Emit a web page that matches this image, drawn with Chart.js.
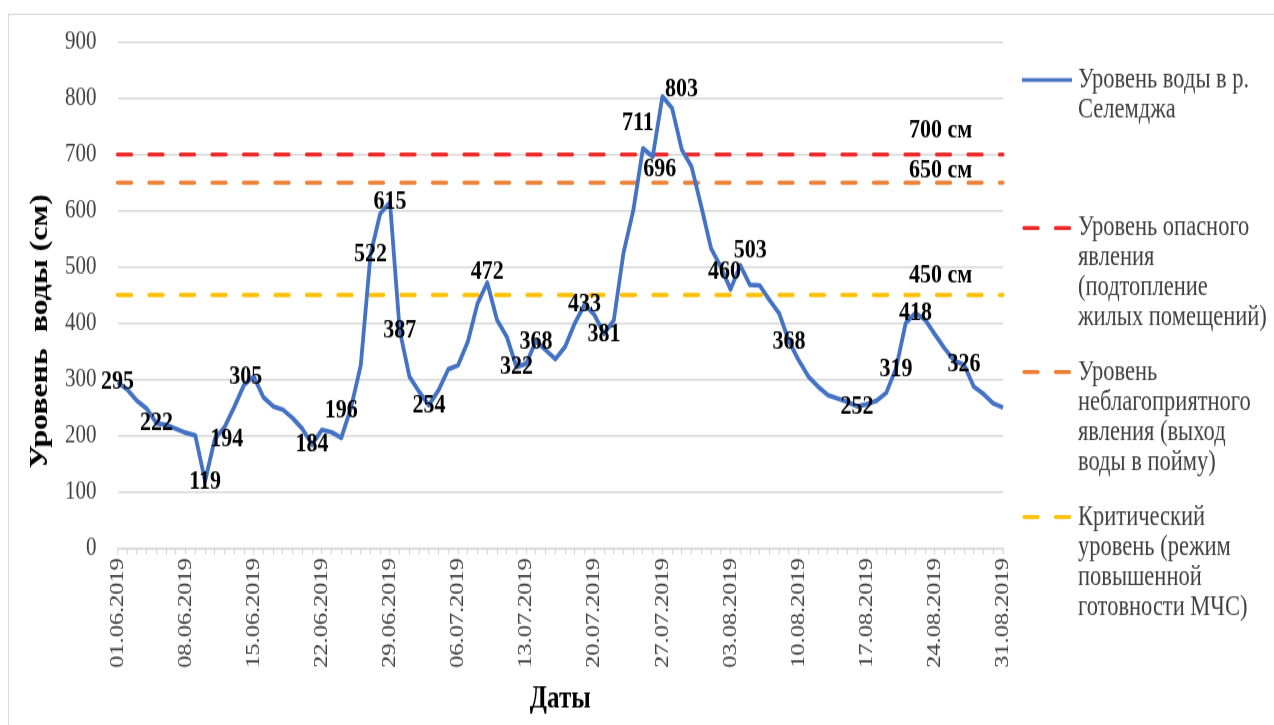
<!DOCTYPE html>
<html lang="ru">
<head>
<meta charset="utf-8">
<title>Уровень воды в р. Селемджа, июнь–август 2019</title>
<script src="https://cdn.jsdelivr.net/npm/chart.js@4.4.1/dist/chart.umd.min.js"></script>
<style>
  html, body { margin: 0; padding: 0; background: #ffffff; overflow: hidden; }
</style>
</head>
<body>
<!-- the drawing buffer is 580 px high and shown 725 px high (tall lettering) -->
<canvas id="chart" width="1274" height="580" style="display:block;width:1274px;height:725px"></canvas>
<script>
// ---- data -------------------------------------------------------------
// daily dates 01.06.2019 – 31.08.2019
const monthDays = [['06', 30], ['07', 31], ['08', 31]];
const dates = [];
monthDays.forEach(([m, n]) => {
  for (let d = 1; d <= n; d++) dates.push(String(d).padStart(2, '0') + '.' + m + '.2019');
});

// dates that carry a tick label
const tickDates = ['01.06.2019', '08.06.2019', '15.06.2019', '22.06.2019', '29.06.2019',
  '06.07.2019', '13.07.2019', '20.07.2019', '27.07.2019', '03.08.2019',
  '10.08.2019', '17.08.2019', '24.08.2019', '31.08.2019'];

// water level, cm
const waterLevel = [
  295, 282, 262, 248, 222, 219, 212, 205, 200, 119,
  194, 215, 251, 290, 305, 268, 252, 246, 231, 212,
  184, 210, 206, 196, 250, 325, 522, 595, 615, 387,
  305, 278, 254, 281, 318, 325, 367, 435, 472, 406,
  376, 322, 328, 368, 352, 336, 358, 400, 433, 415,
  381, 405, 525, 600, 711, 696, 803, 782, 708, 678,
  607, 533, 500, 460, 503, 468, 467, 441, 417, 368,
  334, 305, 287, 272, 266, 260, 252, 256, 262, 276,
  319, 400, 418, 406, 380, 355, 333, 326, 287, 274,
  257, 250
];

// days whose value is printed next to the line
const labelledDays = [0, 4, 9, 10, 14, 20, 23, 26, 28, 29, 32, 38, 41, 43, 48, 50,
  54, 55, 56, 63, 64, 69, 76, 80, 82, 87];

// warning levels, cm
const thresholdLevels = [700, 650, 450];

const seriesNames = [
  'Уровень воды в р. Селемджа',
  'Уровень опасного явления (подтопление жилых помещений)',
  'Уровень неблагоприятного явления (выход воды в пойму)',
  'Критический уровень (режим повышенной готовности МЧС)'
];
const legendLines = [
  ['Уровень воды в р.', 'Селемджа'],
  ['Уровень опасного', 'явления', '(подтопление', 'жилых помещений)'],
  ['Уровень', 'неблагоприятного', 'явления (выход', 'воды в пойму)'],
  ['Критический', 'уровень (режим', 'повышенной', 'готовности МЧС)']
];
const yTitle = 'Уровень  воды (см)';

// ---- styles -----------------------------------------------------------
const SERIF = "'Liberation Serif', 'Times New Roman', serif";
const lineColor = '#4472C4';
const thresholdColors = ['#EE2A2A', '#ED7D31', '#FFC000'];
const gridColor = '#D9D9D9';
const textGray = '#404040';
const dashPattern = [14, 17.5];

// nudges (px) for a few value labels that sit beside their point
const labelShift = {
  10: [12, 0], 14: [-8, 0], 23: [0, -22], 38: [0, -9], 54: [-5, -20],
  55: [7, 10], 56: [19, -6], 63: [-6, -14], 64: [10, -12]
};
const thresholdLabelShift = [-19.5, -10, -16];
const legendTop = [64, 182.4, 297.6, 413.6];
const legendLineStep = 24;
const yTitlePos = [40, 265];

Chart.defaults.font.family = SERIF;

const decorations = {
  id: 'decorations',
  beforeDraw(chart) {
    const c = chart.ctx;
    c.save();
    c.fillStyle = '#ffffff';
    c.fillRect(0, 0, chart.width, chart.height);
    c.strokeStyle = gridColor;
    c.lineWidth = 1;
    c.strokeRect(8.5, 11.5, chart.width + 20, chart.height + 20);
    c.restore();
  },
  afterDatasetsDraw(chart) {
    const c = chart.ctx;
    const y = chart.scales.y;
    c.save();
    c.fillStyle = '#000000';
    // threshold captions
    c.font = 'bold 22px ' + SERIF;
    c.textAlign = 'left';
    c.textBaseline = 'middle';
    thresholdLevels.forEach((lvl, k) => {
      c.fillText(lvl + ' см', 909, y.getPixelForValue(lvl) + thresholdLabelShift[k]);
    });
    // value labels
    c.textAlign = 'center';
    const pts = chart.getDatasetMeta(0).data;
    labelledDays.forEach(i => {
      const s = labelShift[i] || [0, 0];
      c.fillText(String(waterLevel[i]), pts[i].x + s[0], pts[i].y + s[1]);
    });
    c.restore();
  },
  afterDraw(chart) {
    const c = chart.ctx;
    c.save();
    // vertical axis title
    c.save();
    c.translate(yTitlePos[0], yTitlePos[1]);
    c.rotate(-Math.PI / 2);
    c.font = 'bold 25.5px ' + SERIF;
    c.fillStyle = '#000000';
    c.textAlign = 'center';
    c.textBaseline = 'middle';
    c.fillText(yTitle, 0, 0);
    c.restore();
    // legend
    c.font = '22.5px ' + SERIF;
    c.textAlign = 'left';
    c.textBaseline = 'middle';
    chart.data.datasets.forEach((ds, k) => {
      const y0 = legendTop[k];
      c.strokeStyle = ds.borderColor;
      c.lineWidth = 3.2;
      c.lineCap = ds.borderDash ? 'round' : 'butt';
      c.setLineDash(ds.borderDash || []);
      c.beginPath();
      c.moveTo(ds.borderDash ? 1024 : 1022, y0);
      c.lineTo(1072, y0);
      c.stroke();
      c.setLineDash([]);
      c.fillStyle = textGray;
      legendLines[k].forEach((t, j) => c.fillText(t, 1078, y0 + j * legendLineStep));
    });
    c.restore();
  }
};

const first = dates[0], last = dates[dates.length - 1];

new Chart(document.getElementById('chart'), {
  type: 'line',
  data: {
    labels: dates,
    datasets: [
      {
        label: seriesNames[0],
        data: waterLevel,
        borderColor: lineColor,
        borderWidth: 3.8,
        pointRadius: 0,
        tension: 0,
        borderJoinStyle: 'round',
        order: 0
      },
      ...thresholdLevels.map((lvl, k) => ({
        label: seriesNames[k + 1],
        data: [{ x: first, y: lvl }, { x: last, y: lvl }],
        borderColor: thresholdColors[k],
        borderWidth: 3.3,
        borderDash: dashPattern,
        borderCapStyle: 'round',
        pointRadius: 0,
        order: 1
      }))
    ]
  },
  options: {
    responsive: false,
    animation: false,
    devicePixelRatio: 1,
    layout: { padding: { top: 33.6, right: 271, bottom: 0, left: 0 } },
    plugins: { legend: { display: false }, tooltip: { enabled: false } },
    scales: {
      x: {
        type: 'category',
        offset: false,
        afterFit: s => { s.height = 141.6; },
        grid: {
          drawOnChartArea: false,
          drawTicks: true,
          tickLength: 5,
          tickColor: gridColor,
          tickWidth: 1.3
        },
        border: { display: true, color: gridColor, width: 1.6 },
        ticks: {
          autoSkip: false,
          minRotation: 90,
          maxRotation: 90,
          padding: 3,
          color: textGray,
          font: { size: 19.5 },
          callback(value) {
            const d = this.getLabelForValue(value);
            return tickDates.includes(d) ? d : '';
          }
        },
        title: {
          display: true,
          text: 'Даты',
          color: '#000000',
          font: { size: 25, weight: 'bold' },
          padding: { top: 0, bottom: 5 }
        }
      },
      y: {
        min: 0,
        max: 900,
        afterFit: s => { s.width = 117.5; },
        grid: { color: gridColor, lineWidth: 1.6, drawTicks: false },
        border: { display: false },
        ticks: {
          stepSize: 100,
          padding: 21,
          color: textGray,
          font: { size: 21 }
        }
      }
    }
  },
  plugins: [decorations]
});
</script>
</body>
</html>
